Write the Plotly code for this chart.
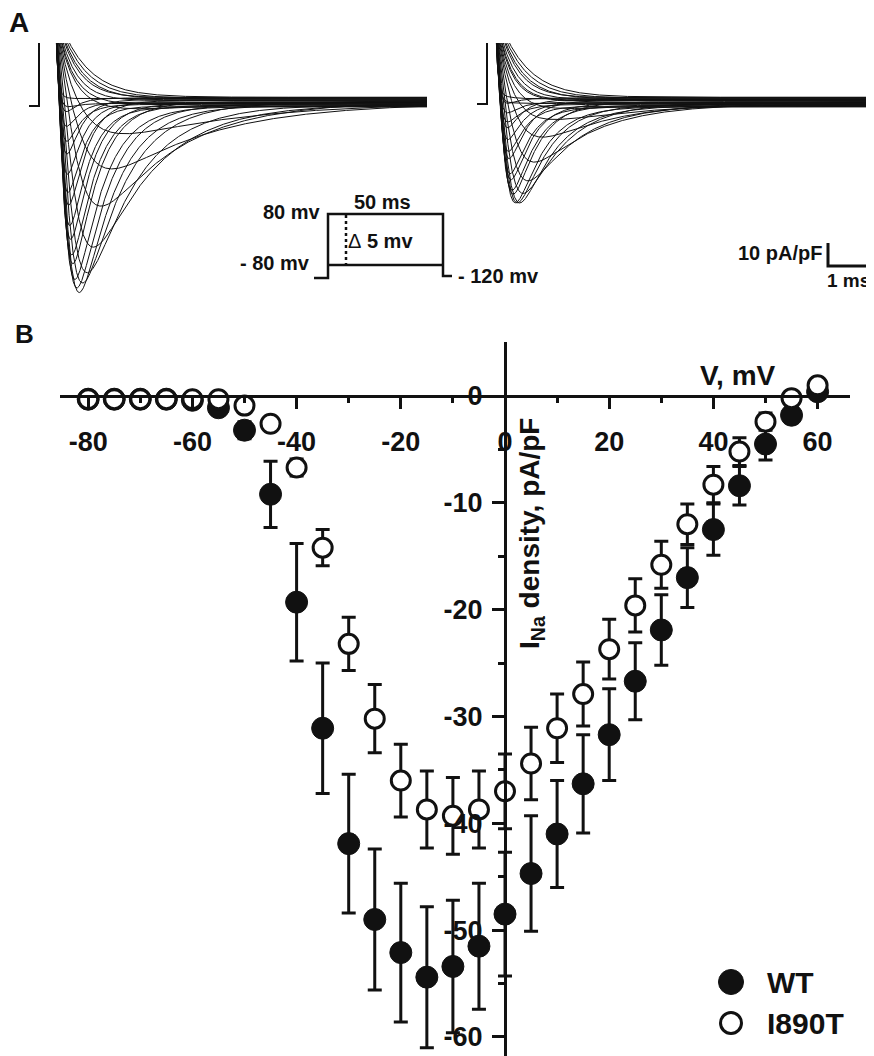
import numpy as np
import plotly.graph_objects as go

W, H = 874, 1056
OFF = 8                      # page body margin in the browser
FW, FH = W - OFF, H - OFF    # figure size so the page fits the window
FONT = "Liberation Sans"
INK = "#111111"

# ---------------- Panel B data (I-V relationship) ----------------
voltage = list(range(-80, 65, 5))
wt_mean = [-0.3, -0.3, -0.3, -0.3, -0.4, -1.1, -3.2, -9.2, -19.3, -31.1, -41.9, -49.0, -52.1, -54.4,
           -53.4, -51.5, -48.5, -44.7, -41.0, -36.3, -31.7, -26.7, -21.9, -17.0, -12.5, -8.4, -4.5, -1.8, 0.4]
wt_sem = [0.3, 0.3, 0.3, 0.3, 0.3, 0.5, 0.8, 3.1, 5.5, 6.1, 6.5, 6.6, 6.5, 6.6,
          6.2, 5.9, 5.8, 5.4, 5.0, 4.6, 4.3, 3.6, 3.3, 2.8, 2.4, 1.8, 1.5, 0.7, 0.5]
mut_mean = [-0.3, -0.3, -0.3, -0.3, -0.3, -0.3, -0.9, -2.6, -6.7, -14.2, -23.2, -30.2, -36.0, -38.7,
            -39.3, -38.7, -37.0, -34.4, -31.1, -27.9, -23.7, -19.6, -15.8, -12.0, -8.3, -5.2, -2.4, -0.2, 1.0]
mut_sem = [0.3, 0.3, 0.3, 0.3, 0.3, 0.3, 0.4, 0.5, 0.8, 1.7, 2.5, 3.2, 3.4, 3.6,
           3.6, 3.6, 3.5, 3.4, 3.2, 3.0, 2.8, 2.5, 2.2, 1.9, 1.7, 1.3, 0.8, 0.4, 0.4]
series_names = ["WT", "I890T"]

x_tick_vals = [-80, -60, -40, -20, 0, 20, 40, 60]
x_tick_text = ["-80", "-60", "-40", "-20", "0", "20", "40", "60"]
y_tick_vals = [0, -10, -20, -30, -40, -50, -60]
y_tick_text = ["0", "-10", "-20", "-30", "-40", "-50", "-60"]

# ---------------- Panel A sweep parameters (one per voltage step) ----------------
wt_sweep_peak = [0, 0, 0, 0, -0.5, -1.5, -4.5, -14, -29, -46, -63, -74, -79.6, -82.6,
                 -81.3, -77, -72, -67, -61, -54, -47, -40, -33, -25, -18, -12, -6.5, -2.5, 0.5]
mut_sweep_peak = [0, 0, 0, 0, 0, 0, -1, -3, -7.5, -16, -26, -34, -40.6, -43.6,
                  -44.3, -43.6, -41.7, -38.8, -35, -31.4, -26.7, -22, -17.8, -13.5, -9.4, -5.9, -2.7, -0.2, 1.1]
tau_act = [1.2, 1.1, 1.0, 0.95, 0.9, 0.8, 0.7, 0.6, 0.5, 0.42, 0.36, 0.31, 0.27, 0.24,
           0.22, 0.2, 0.18, 0.17, 0.16, 0.15, 0.14, 0.13, 0.125, 0.12, 0.115, 0.11, 0.105, 0.1, 0.1]
tau_inact = [5, 5, 5, 5, 4.8, 4.5, 4.0, 3.2, 2.5, 1.9, 1.5, 1.2, 1.0, 0.85,
             0.75, 0.67, 0.6, 0.55, 0.5, 0.46, 0.43, 0.4, 0.38, 0.36, 0.34, 0.32, 0.3, 0.29, 0.28]
tau_cap = [0.7, 0.62, 0.55, 0.48, 0.42, 0.37, 0.33, 0.3, 0.27, 0.24, 0.22, 0.2, 0.18, 0.16,
           0.15, 0.14, 0.13, 0.12, 0.115, 0.11, 0.1, 0.095, 0.09, 0.085, 0.08, 0.075, 0.07, 0.065, 0.06]
cap_amp = 40.0
sweep_offset = [1.2, 0.8, 0.4, 1.0, 0.2, -0.3, 0.6, -0.8, -1.2, -0.5, -1.6, -2.0, -1.0, -2.4,
                -1.8, -2.8, -0.7, -2.2, -1.4, -3.0, -0.2, -2.6, -1.1, 0.3, -1.9, -0.9, 0.9, -1.5, 0.5]
sweep_end_ms = [9.3, 9.6]
prepulse_t = [[-0.65, -0.4, -0.4], [-0.45, -0.2, -0.2]]
prepulse_i = [[-2.6, -2.6, 30], [-1.7, -1.7, 30]]
scale_bar_ms = 1.0
scale_bar_pApF = 10.0
scale_bar_origin = (8.325, -72.2)

# voltage protocol schematic (pixel layout of the inset)
protocol_x_px = [314, 328, 328, 443, 443, 452]
protocol_y_px = [278, 278, 214, 214, 276, 276]


def px(x):
    return (x - OFF) / FW


def py(y):
    return 1 - (y - OFF) / FH


def sweep(t, peak, tm, th, tc, off):
    na = (1 - np.exp(-t / tm)) ** 3 * np.exp(-t / th)
    na = na / na.max()
    return peak * na + cap_amp * np.exp(-t / tc) + off * (1 - np.exp(-t / 0.3))


fig = go.Figure()

# Panel A sweeps
for panel, (peaks, axx, axy) in enumerate([(wt_sweep_peak, "x2", "y2"), (mut_sweep_peak, "x3", "y3")]):
    t = np.concatenate([np.linspace(0, 1.5, 400), np.linspace(1.5, sweep_end_ms[panel], 500)[1:]])
    for k in range(len(voltage)):
        y = sweep(t, peaks[k], tau_act[k], tau_inact[k], tau_cap[k], sweep_offset[k])
        fig.add_trace(go.Scatter(x=t, y=y, mode="lines", line=dict(color=INK, width=1),
                                 xaxis=axx, yaxis=axy, showlegend=False, hoverinfo="skip"))
    fig.add_trace(go.Scatter(x=prepulse_t[panel], y=prepulse_i[panel], mode="lines",
                             line=dict(color=INK, width=2), xaxis=axx, yaxis=axy,
                             showlegend=False, hoverinfo="skip"))

# scale bar (right panel)
sx, sy = scale_bar_origin
fig.add_trace(go.Scatter(x=[sx, sx, sx + scale_bar_ms], y=[sy + scale_bar_pApF, sy, sy], mode="lines",
                         line=dict(color=INK, width=3), xaxis="x3", yaxis="y3",
                         showlegend=False, hoverinfo="skip"))

# Panel B I-V curves
fig.add_trace(go.Scatter(
    x=voltage, y=wt_mean, mode="markers", name=series_names[0],
    error_y=dict(type="data", array=wt_sem, visible=True, thickness=3, width=7, color=INK),
    marker=dict(symbol="circle", size=22, color=INK, line=dict(width=1, color=INK)),
    xaxis="x", yaxis="y", showlegend=False, cliponaxis=False))
fig.add_trace(go.Scatter(
    x=voltage, y=mut_mean, mode="markers", name=series_names[1],
    error_y=dict(type="data", array=mut_sem, visible=True, thickness=3, width=7, color=INK),
    marker=dict(symbol="circle", size=19, color="white", line=dict(width=3, color=INK)),
    xaxis="x", yaxis="y", showlegend=False, cliponaxis=False))

# axes geometry (reference pixel positions)
x0_px, x_scale = 505, 5.21     # px of 0 mV, px per mV
y0_px, y_scale = 396, 10.683   # px of 0 pA/pF, px per pA/pF
xl, xr = 60, 850
yt, yb = 342, 1056
tick_font = dict(family=FONT, size=27, color=INK, weight="bold")

# panel A geometry
a_t0 = [55, 495]      # px of t=0 (left, right)
a_ms = 40             # px per ms
a_base = 100          # px of 0 pA/pF
a_unit = 2.3          # px per pA/pF
a_top, a_bot = 43, 300
a_split = 437

fig.update_layout(
    width=FW, height=FH, margin=dict(l=0, r=0, t=0, b=0),
    paper_bgcolor="white", plot_bgcolor="rgba(0,0,0,0)",
    xaxis=dict(domain=[px(xl), px(xr)], range=[(xl - x0_px) / x_scale, (xr - x0_px) / x_scale],
               anchor="free", position=py(y0_px), showline=True, linewidth=3, linecolor=INK,
               showgrid=False, zeroline=False, ticks="outside", ticklen=11, tickwidth=3, tickcolor=INK,
               tickvals=x_tick_vals, ticktext=x_tick_text, tickfont=tick_font, ticklabelstandoff=10,
               minor=dict(tickvals=[-70, -50, -30, -10, 10, 30, 50], ticks="outside", ticklen=5,
                          tickwidth=3, tickcolor=INK, showgrid=False)),
    yaxis=dict(domain=[0, py(yt)], range=[-(yb - y0_px) / y_scale, (y0_px - yt) / y_scale],
               anchor="free", position=px(x0_px), showline=True, linewidth=3, linecolor=INK,
               showgrid=False, zeroline=False, ticks="outside", ticklen=12, tickwidth=3, tickcolor=INK,
               tickvals=y_tick_vals, ticktext=y_tick_text, tickfont=tick_font, ticklabelstandoff=4,
               minor=dict(tickvals=[-5, -15, -25, -35, -45, -55], ticks="outside", ticklen=6,
                          tickwidth=3, tickcolor=INK, showgrid=False)),
    xaxis2=dict(domain=[0, px(a_split)], range=[(OFF - a_t0[0]) / a_ms, (a_split - a_t0[0]) / a_ms],
                visible=False, anchor="y2"),
    yaxis2=dict(domain=[py(a_bot), py(a_top)], range=[-(a_bot - a_base) / a_unit, (a_base - a_top) / a_unit],
                visible=False, anchor="x2"),
    xaxis3=dict(domain=[px(a_split), 1], range=[(a_split - a_t0[1]) / a_ms, (W - a_t0[1]) / a_ms],
                visible=False, anchor="y3"),
    yaxis3=dict(domain=[py(a_bot), py(a_top)], range=[-(a_bot - a_base) / a_unit, (a_base - a_top) / a_unit],
                visible=False, anchor="x3"),
)

shapes = []
path = "M " + " L ".join(f"{px(a):.5f},{py(b):.5f}" for a, b in zip(protocol_x_px, protocol_y_px))
shapes.append(dict(type="path", path=path, xref="paper", yref="paper", line=dict(color=INK, width=2.5)))
shapes.append(dict(type="line", xref="paper", yref="paper", x0=px(328), x1=px(443), y0=py(265), y1=py(265),
                   line=dict(color=INK, width=2.5)))
shapes.append(dict(type="line", xref="paper", yref="paper", x0=px(346), x1=px(346), y0=py(215), y1=py(265),
                   line=dict(color=INK, width=2.5, dash="dot")))
# legend symbols
shapes.append(dict(type="circle", xref="paper", yref="paper", xsizemode="pixel", ysizemode="pixel",
                   xanchor=px(731), yanchor=py(982), x0=-12.5, x1=12.5, y0=-12.5, y1=12.5,
                   fillcolor=INK, line=dict(color=INK, width=1)))
shapes.append(dict(type="circle", xref="paper", yref="paper", xsizemode="pixel", ysizemode="pixel",
                   xanchor=px(731), yanchor=py(1023), x0=-10.5, x1=10.5, y0=-10.5, y1=10.5,
                   fillcolor="white", line=dict(color=INK, width=3)))
fig.update_layout(shapes=shapes)


def ann(text, x, y, size, xanchor="center", yanchor="middle", angle=0):
    return dict(text=text, x=px(x), y=py(y), xref="paper", yref="paper", showarrow=False,
                xanchor=xanchor, yanchor=yanchor, textangle=angle, borderpad=0,
                font=dict(family=FONT, size=size, color=INK, weight="bold"))


annotations = [
    ann("A", 19, 22, 28),
    ann("B", 24, 334, 26),
    ann("80 mv", 322, 212, 20, xanchor="right"),
    ann("- 80 mv", 311, 263, 20, xanchor="right"),
    ann("50 ms", 382, 202, 20),
    ann("<span style='font-weight:normal'>\u0394</span> 5 mv", 347, 241, 20, xanchor="left"),
    ann("- 120 mv", 457, 276, 20, xanchor="left"),
    ann("10 pA/pF", 823, 253, 20, xanchor="right"),
    ann("1 ms", 871, 281, 19, xanchor="right"),
    ann("V, mV", 738, 376, 28),
    ann("I<sub>Na</sub> density, pA/pF", 531, 534, 28, angle=-90),
    ann(series_names[0], 766, 982, 30, xanchor="left"),
    ann(series_names[1], 766, 1023, 30, xanchor="left"),
]
fig.update_layout(annotations=annotations)

fig.write_html("out.html")
